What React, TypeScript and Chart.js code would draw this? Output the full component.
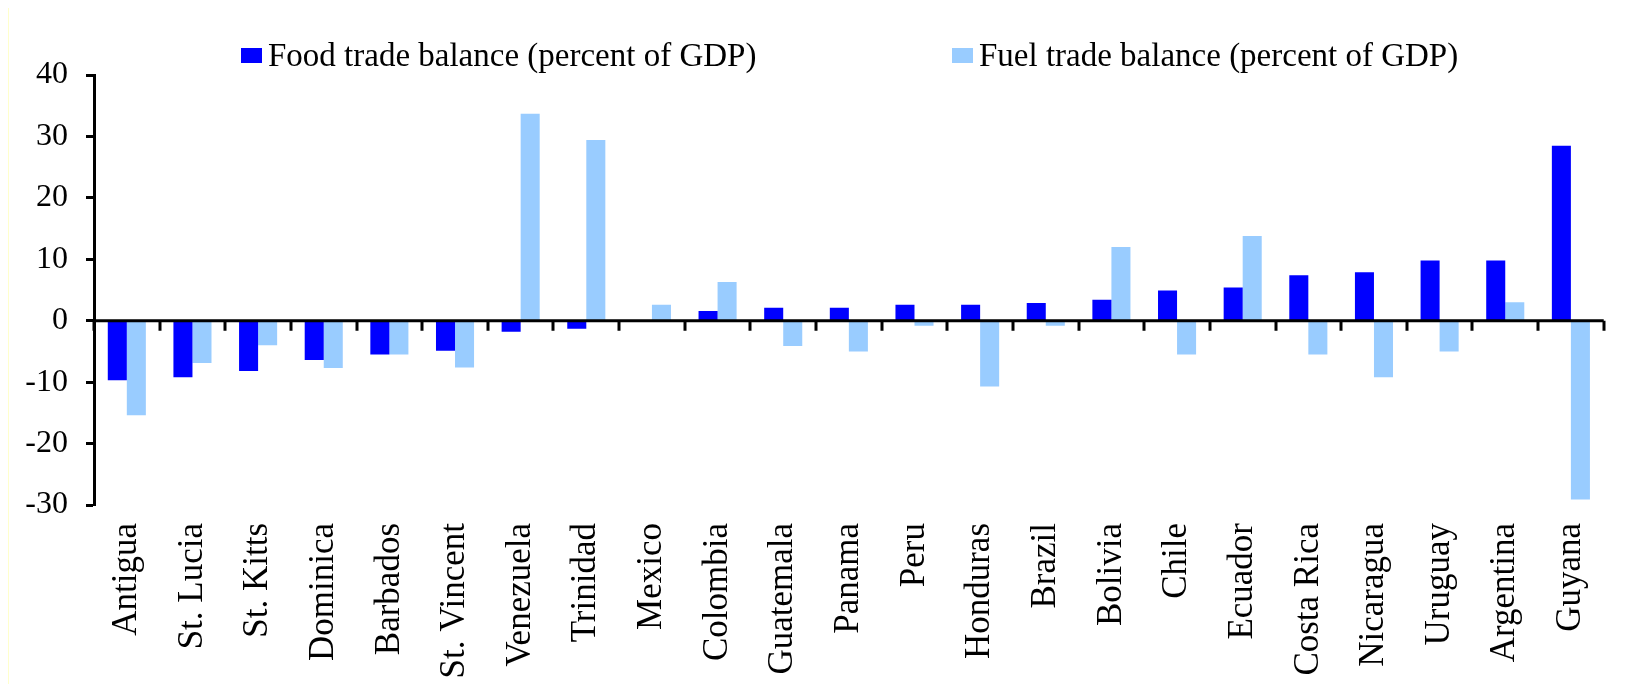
import React, { useEffect, useRef } from 'react';
import { Chart, registerables } from 'chart.js';

Chart.register(...registerables);

const categories = [
  'Antigua', 'St. Lucia', 'St. Kitts', 'Dominica', 'Barbados', 'St. Vincent',
  'Venezuela', 'Trinidad', 'Mexico', 'Colombia', 'Guatemala', 'Panama', 'Peru',
  'Honduras', 'Brazil', 'Bolivia', 'Chile', 'Ecuador', 'Costa Rica', 'Nicaragua',
  'Uruguay', 'Argentina', 'Guyana',
];
const foodBalance = [
  -9.7, -9.2, -8.2, -6.4, -5.5, -4.9, -1.8, -1.3, 0, 1.6, 2.1, 2.1, 2.6,
  2.6, 2.9, 3.4, 4.9, 5.4, 7.4, 7.9, 9.8, 9.8, 28.5,
];
const fuelBalance = [
  -15.4, -6.9, -4.0, -7.7, -5.5, -7.6, 33.7, 29.4, 2.6, 6.3, -4.1, -5.0, -0.8,
  -10.7, -0.8, 12.0, -5.5, 13.8, -5.5, -9.2, -5.0, 3.0, -29.1,
];
const seriesLabels = ['Food trade balance (percent of GDP)', 'Fuel trade balance (percent of GDP)'];
const seriesColors = ['#0000FF', '#99CCFF'];
const yMin = -30;
const yMax = 40;
const yStep = 10;

const FONT = '"Liberation Serif", "Times New Roman", serif';
const legendBoxX = [232, 943];

const customLegend = {
  id: 'customLegend',
  afterDraw(chart: any) {
    const ctx = chart.ctx;
    ctx.save();
    ctx.font = `33px ${FONT}`;
    ctx.textBaseline = 'alphabetic';
    ctx.textAlign = 'left';
    chart.data.datasets.forEach((ds: any, i: number) => {
      const bx = legendBoxX[i];
      ctx.fillStyle = ds.backgroundColor;
      ctx.fillRect(bx, 42, 21, 15);
      ctx.fillStyle = '#000';
      ctx.fillText(ds.label, bx + 27, 60);
    });
    ctx.restore();
  },
};

const zeroTicks = {
  id: 'zeroTicks',
  afterDatasetsDraw(chart: any) {
    const ctx = chart.ctx;
    const xs = chart.scales.x;
    const ys = chart.scales.y;
    const y0 = ys.getPixelForValue(0);
    ctx.save();
    ctx.strokeStyle = '#000';
    ctx.lineWidth = 3;
    ctx.beginPath();
    ctx.moveTo(chart.chartArea.left, y0);
    ctx.lineTo(chart.chartArea.right, y0);
    for (let i = 0; i <= categories.length; i++) {
      const px = Math.round(xs.getPixelForValue(i - 0.5));
      ctx.moveTo(px, y0);
      ctx.lineTo(px, y0 + 10);
    }
    ctx.stroke();
    ctx.restore();
  },
};

export default function App() {
  const ref = useRef<HTMLCanvasElement | null>(null);

  useEffect(() => {
    if (!ref.current) return;
    const chart = new Chart(ref.current, {
      type: 'bar',
      data: {
        labels: categories,
        datasets: [
          { label: seriesLabels[0], data: foodBalance, backgroundColor: seriesColors[0] },
          { label: seriesLabels[1], data: fuelBalance, backgroundColor: seriesColors[1] },
        ],
      },
      options: {
        animation: false,
        responsive: false,
        devicePixelRatio: 1,
        layout: { padding: { top: 69, right: 5, left: 0, bottom: 0 } },
        datasets: {
          bar: { categoryPercentage: 0.58, barPercentage: 1.0 },
        },
        plugins: {
          legend: { display: false },
          tooltip: { enabled: false },
          title: { display: false },
        },
        scales: {
          x: {
            grid: { display: false, drawTicks: false },
            border: { display: false },
            ticks: {
              autoSkip: false,
              minRotation: 90,
              maxRotation: 90,
              padding: 18,
              color: '#000',
              font: { family: FONT, size: 35 },
            },
            afterFit(scale: any) {
              scale.height = 187;
            },
          },
          y: {
            min: yMin,
            max: yMax,
            ticks: {
              stepSize: yStep,
              padding: 18,
              color: '#000',
              font: { family: FONT, size: 32 },
            },
            grid: {
              drawOnChartArea: false,
              drawTicks: true,
              tickLength: 8,
              tickColor: '#000',
              tickWidth: 3,
            },
            border: { display: true, color: '#000', width: 3 },
            afterFit(scale: any) {
              scale.width = 85;
            },
          },
        },
      },
      plugins: [customLegend, zeroTicks],
    });
    return () => chart.destroy();
  }, []);

  return (
    <div
      style={{
        position: 'relative',
        margin: -8,
        width: 1631,
        height: 692,
        background: '#FFFFCC',
        overflow: 'hidden',
      }}
    >
      <div
        style={{
          position: 'absolute',
          left: 9,
          top: 6,
          width: 1622,
          height: 686,
          background: '#FFFFFF',
        }}
      >
        <canvas ref={ref} width={1622} height={686} style={{ display: 'block' }} />
      </div>
    </div>
  );
}
